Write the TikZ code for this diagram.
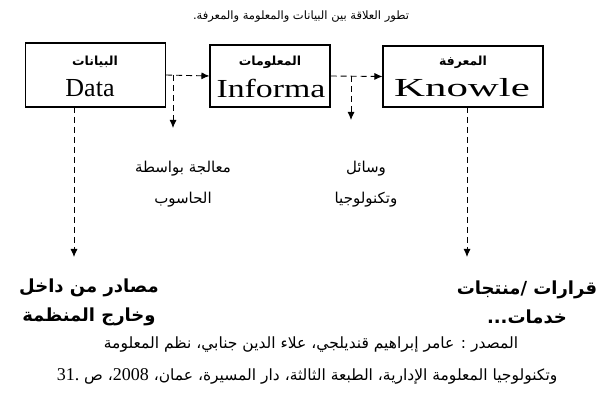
\documentclass[tikz,border=0pt]{standalone}
\usepackage{fontspec}
\setmainfont{Liberation Serif}
\newfontfamily\arabicfont[Script=Arabic]{DejaVu Sans}
\TeXXeTstate=1
\usetikzlibrary{arrows.meta}

\begin{document}
\begin{tikzpicture}[x=1pt, y=-1pt,
	box/.style={draw, line width=1.1pt, inner sep=0pt, align=center},
	boxar/.style={font=\arabicfont\bfseries\fontsize{12.5}{12.5}\selectfont},
	boxlat/.style={font=\fontsize{26}{26}\selectfont},
	dasharrow/.style={line width=0.9pt, dash pattern=on 6pt off 4pt, -{Latex[length=8pt,width=7pt]}},
	arlabel/.style={align=center, font=\arabicfont\fontsize{15}{31}\selectfont},
	arbold/.style={align=center, font=\arabicfont\bfseries\fontsize{18}{29}\selectfont},
	arsource/.style={font=\arabicfont\fontsize{11.5}{14}\selectfont}]
	\useasboundingbox (0,0) rectangle (598,403);
	\node[arsource] (title) at (301,17) {\beginR تطور العلاقة بين البيانات والمعلومة والمعرفة.\endR};
	\node[box, minimum width=140pt, minimum height=64pt] (data) at (95.5,75) {};
	\node[box, minimum width=120pt, minimum height=62pt] (info) at (270,76) {};
	\node[box, minimum width=160pt, minimum height=61pt] (know) at (463,76.5) {};
	\node[boxar] (dataar) at (95,62) {البيانات};
	\node[boxlat] (datalat) at (90,88) {Data};
	\node[boxar] (infoar) at (270,62) {المعلومات};
	\node[boxlat] (infolat) at (271,88) {\scalebox{1.3}[1]{Informa}};
	\node[boxar] (knowar) at (463,62) {المعرفة};
	\node[boxlat] (knowlat) at (462,88) {\scalebox{1.65}[1]{Knowle}};
	\draw[dasharrow] (data.east) -- (info.west);
	\draw[dasharrow] (info.east) -- (know.west);
	\coordinate (branch1) at (173,75);
	\coordinate (branch1end) at (173,128);
	\coordinate (branch2) at (351,76);
	\coordinate (branch2end) at (351,120);
	\draw[dasharrow] (branch1) -- (branch1end);
	\draw[dasharrow] (branch2) -- (branch2end);
	\coordinate (datafoot) at (74,107);
	\coordinate (dataend) at (74,257);
	\coordinate (knowfoot) at (467,107);
	\coordinate (knowend) at (467,257);
	\draw[dasharrow] (datafoot) -- (dataend);
	\draw[dasharrow] (knowfoot) -- (knowend);
	\node[arlabel] (process) at (183,184) {\beginR معالجة بواسطة\endR\\\beginR الحاسوب\endR};
	\node[arlabel] (tools) at (366,184) {\beginR وسائل\endR\\\beginR وتكنولوجيا\endR};
	\node[arbold] (sources) at (89,302) {\beginR مصادر من داخل\endR\\\beginR وخارج المنظمة\endR};
	\node[arbold] (outputs) at (527,302) {\beginR قرارات /منتجات\endR\\\beginR خدمات...\endR};
	\node[arsource, font=\arabicfont\fontsize{15.5}{18}\selectfont] (ref1) at (311,345) {\beginR المصدر : عامر إبراهيم قنديلجي، علاء الدين جنابي، نظم المعلومة\endR};
	\node[arsource, font=\arabicfont\fontsize{15.5}{18}\selectfont] (ref2) at (307,376) {\beginR وتكنولوجيا المعلومة الإدارية، الطبعة الثالثة، دار المسيرة، عمان، {\rmfamily\fontsize{18}{18}\selectfont 2008}، ص {\rmfamily\fontsize{18}{18}\selectfont 31.}\endR};
\end{tikzpicture}
\end{document}
